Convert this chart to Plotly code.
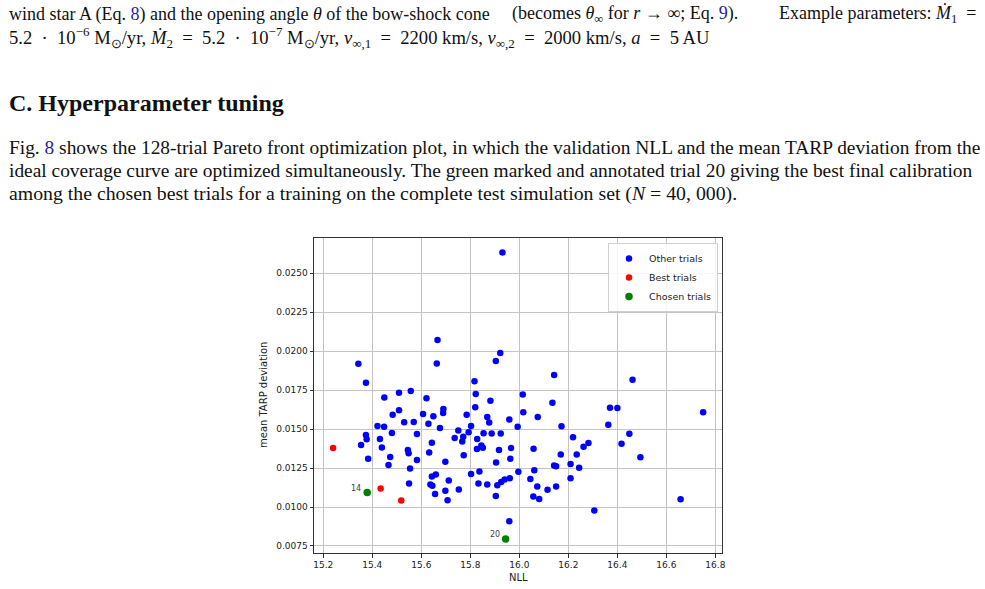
import plotly.graph_objects as go

# ---------------- data ----------------
other_nll = [15.343, 15.374, 15.354, 15.374, 15.377, 15.383, 15.421, 15.431, 15.439, 15.449, 15.448, 15.466, 15.473,
             15.480, 15.483, 15.509, 15.509, 15.530, 15.545, 15.548, 15.550, 15.554, 15.557, 15.569, 15.582, 15.582,
             15.607, 15.621, 15.629, 15.632, 15.637, 15.645, 15.643, 15.659, 15.643, 15.649, 15.656, 15.666, 15.663,
             15.676, 15.690, 15.689, 15.698, 15.698, 15.707, 15.712, 15.736, 15.751, 15.753, 15.767, 15.771, 15.773,
             15.785, 15.793, 15.803, 15.803, 15.817, 15.822, 15.820, 15.828, 15.827, 15.837, 15.833, 15.845, 15.851,
             15.854, 15.869, 15.877, 15.869, 15.882, 15.887, 15.904, 15.905, 15.910, 15.904, 15.917, 15.922, 15.924,
             15.926, 15.931, 15.940, 15.959, 15.961, 15.966, 15.963, 15.959, 15.993, 15.996, 16.014, 16.016, 16.045,
             16.058, 16.061, 16.057, 16.075, 16.073, 16.081, 16.115, 16.135, 16.142, 16.142, 16.150, 16.150, 16.169,
             16.172, 16.209, 16.209, 16.219, 16.234, 16.244, 16.262, 16.282, 16.306, 16.363, 16.370, 16.400, 16.417,
             16.449, 16.462, 16.494, 16.658, 16.750]
other_tarp = [0.01918, 0.01796, 0.01397, 0.01461, 0.01434, 0.01309, 0.01519, 0.01436, 0.01382, 0.01702, 0.01515,
              0.01269, 0.0132, 0.01474, 0.01592, 0.01733, 0.0162, 0.01543, 0.01365, 0.01344, 0.01151, 0.01247,
              0.01744, 0.01545, 0.01468, 0.01301,
              0.01596, 0.01698, 0.01534, 0.0135, 0.01145, 0.01136, 0.01196, 0.01209, 0.01412, 0.01582, 0.01084,
              0.02071, 0.01921, 0.01506, 0.01629, 0.01602, 0.0129, 0.01104, 0.01044, 0.0117, 0.01442, 0.0149,
              0.01113, 0.0142, 0.0145, 0.01332, 0.01592, 0.01479, 0.01519, 0.01211, 0.01807, 0.01725, 0.0164,
              0.01436, 0.01372, 0.01228, 0.01151, 0.01394, 0.0138, 0.01473, 0.01577, 0.01542, 0.01145, 0.01682,
              0.01471, 0.01937, 0.01285, 0.0114, 0.0107, 0.01365, 0.01988, 0.01471, 0.01161, 0.02632, 0.01177,
              0.01561, 0.01185, 0.01378, 0.0131, 0.00909, 0.01515, 0.01226, 0.01722, 0.01608, 0.01179, 0.01373,
              0.01235, 0.01068, 0.01577, 0.01131, 0.01052, 0.01111, 0.01668, 0.01847, 0.01266, 0.01261, 0.01131,
              0.01337, 0.01518, 0.01275, 0.01185, 0.01447, 0.01337, 0.01251, 0.01386, 0.0141, 0.00978, 0.01527,
              0.01637, 0.01635, 0.01405, 0.0147, 0.01816, 0.01319, 0.01049, 0.01607]
best_nll = [15.240, 15.434, 15.518]
best_tarp = [0.01378, 0.01119, 0.01042]
chosen_nll = [15.379, 15.944]
chosen_tarp = [0.01093, 0.00795]
chosen_labels = ["14", "20"]

x_ticks = [15.2, 15.4, 15.6, 15.8, 16.0, 16.2, 16.4, 16.6, 16.8]
y_ticks = [0.0075, 0.0100, 0.0125, 0.0150, 0.0175, 0.0200, 0.0225, 0.0250]

W, H = 985, 589
def px(x): return x / W
def py(y): return 1 - y / H

fig = go.Figure()
fig.add_trace(go.Scatter(x=other_nll, y=other_tarp, mode="markers", name="Other trials",
                         marker=dict(color="#0000ff", size=6.5)))
fig.add_trace(go.Scatter(x=best_nll, y=best_tarp, mode="markers", name="Best trials",
                         marker=dict(color="#ff0000", size=6.5)))
fig.add_trace(go.Scatter(x=chosen_nll, y=chosen_tarp, mode="markers", name="Chosen trials",
                         marker=dict(color="#008000", size=7.5)))

for xv, yv, lab in zip(chosen_nll, chosen_tarp, chosen_labels):
    fig.add_annotation(x=xv, y=yv, xref="x", yref="y", text=lab, showarrow=False,
                       xanchor="right", yanchor="bottom", xshift=-4, yshift=-2,
                       font=dict(family="DejaVu Sans", size=8, color="#444"))

axis_common = dict(showline=True, linecolor="#333", linewidth=1, mirror=True,
                   ticks="outside", ticklen=3.5, tickcolor="#333", tickwidth=1,
                   showgrid=True, gridcolor="#c4c4c4", gridwidth=1, zeroline=False,
                   tickfont=dict(family="DejaVu Sans", size=9, color="#222"))

fig.update_layout(
    width=W, height=H, margin=dict(l=0, r=0, t=0, b=0, autoexpand=False),
    paper_bgcolor="white", plot_bgcolor="white",
    xaxis=dict(domain=[px(314), px(722)], range=[15.162, 16.827], tickvals=x_ticks,
               tickformat=".1f", **axis_common),
    yaxis=dict(domain=[py(553), py(238)], range=[0.00705, 0.02725], tickvals=y_ticks,
               tickformat=".4f", **axis_common),
    legend=dict(x=px(718), y=py(243), xanchor="right", yanchor="top",
                bgcolor="rgba(255,255,255,0.85)", bordercolor="#d0d0d0", borderwidth=1,
                font=dict(family="DejaVu Sans", size=9.5, color="#222"),
                itemsizing="trace", tracegroupgap=0),
    showlegend=True,
)

# axis titles
fig.add_annotation(x=px(518), y=py(577), xref="paper", yref="paper", text="NLL", showarrow=False,
                   font=dict(family="DejaVu Sans", size=10, color="#222"), xanchor="center", yanchor="middle")
fig.add_annotation(x=px(263), y=py(395), xref="paper", yref="paper", text="mean TARP deviation",
                   showarrow=False, textangle=-90,
                   font=dict(family="DejaVu Sans", size=10, color="#222"), xanchor="center", yanchor="middle")

# page text
serif = "Liberation Serif"
link = "#1f1fa0"
ink = "#111"
EN = "\u2002"  # wider spacing around math operators

def txt(x, y, s, size, anchor="left"):
    fig.add_annotation(x=px(x), y=py(y), xref="paper", yref="paper", text=s, showarrow=False,
                       xanchor=anchor, yanchor="middle", align=anchor,
                       font=dict(family=serif, size=size, color=ink))

# caption tail of the previous figure (justified first line split in pieces)
txt(7, 14, "wind star A (Eq. <span style='color:%s'>8</span>) and the opening angle <i>θ</i> of the "
           "bow-shock cone" % link, 18)
txt(510, 14, "(becomes <i>θ</i><sub>∞</sub> for <i>r</i> → ∞; Eq. <span style='color:%s'>9</span>)." % link, 18)
txt(978, 14, "Example parameters: <i>Ṁ</i><sub>1</sub>" + EN + "=", 18, anchor="right")
txt(7, 37, "5.2" + EN + "·" + EN + "10<sup>−6</sup> M<sub>⊙</sub>/yr, <i>Ṁ</i><sub>2</sub>" + EN + "=" + EN +
           "5.2" + EN + "·" + EN + "10<sup>−7</sup> M<sub>⊙</sub>/yr, <i>v</i><sub>∞,1</sub>" + EN + "=" + EN +
           "2200 km/s, <i>v</i><sub>∞,2</sub>" + EN + "=" + EN + "2000 km/s, <i>a</i>" + EN + "=" + EN + "5 AU",
    18.6)

# section heading
txt(7, 103, "<b>C. Hyperparameter tuning</b>", 24)

# paragraph
txt(7, 148, "Fig. <span style='color:%s'>8</span> shows the 128-trial Pareto front optimization plot, in which the "
            "validation NLL and the mean TARP deviation from the" % link, 19.4)
txt(7, 171, "ideal coverage curve are optimized simultaneously. The green marked and annotated trial 20 giving "
            "the best final calibration", 19.4)
txt(7, 193, "among the chosen best trials for a training on the complete test simulation set "
            "(<i>N</i> = 40, 000).", 19.8)

fig.write_html("out.html")
